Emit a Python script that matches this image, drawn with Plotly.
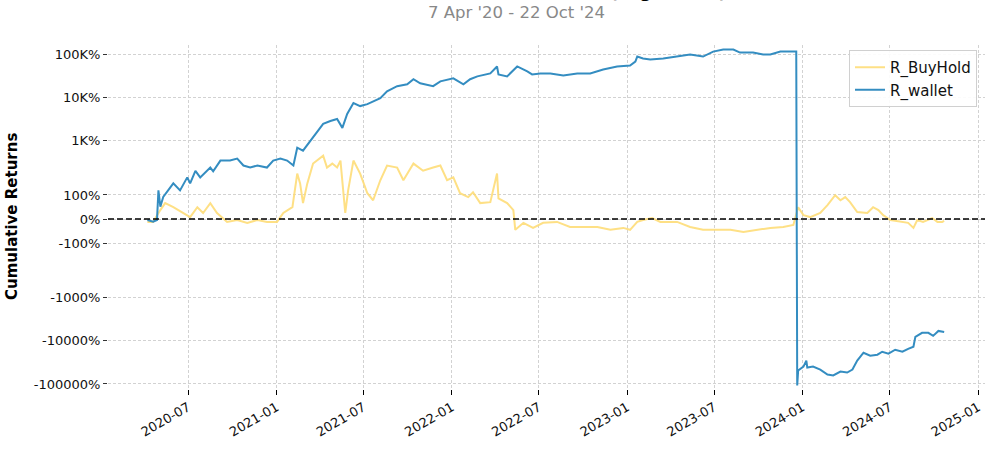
import numpy as np
import plotly.graph_objects as go

# ---- data (cumulative returns in %) ----
wallet_dates = [
    "2020-04-07", "2020-04-19", "2020-04-27", "2020-04-30", "2020-05-04", "2020-05-10", "2020-05-31",
    "2020-06-14", "2020-06-29", "2020-07-05", "2020-07-16", "2020-07-26", "2020-08-16", "2020-08-22",
    "2020-09-06", "2020-09-26", "2020-10-11", "2020-10-24", "2020-11-07", "2020-11-22", "2020-12-12",
    "2020-12-25", "2021-01-09", "2021-01-23", "2021-02-05", "2021-02-13", "2021-02-25", "2021-03-18",
    "2021-04-08", "2021-04-23", "2021-05-07", "2021-05-18", "2021-05-28", "2021-06-10", "2021-06-24",
    "2021-07-09", "2021-07-21", "2021-08-05", "2021-08-19", "2021-09-09", "2021-09-30", "2021-10-13",
    "2021-10-27", "2021-11-23", "2021-12-08", "2022-01-04", "2022-01-25", "2022-02-08", "2022-02-23",
    "2022-03-22", "2022-04-05", "2022-04-08", "2022-04-26", "2022-05-17", "2022-06-07", "2022-06-17",
    "2022-07-04", "2022-07-25", "2022-08-21", "2022-09-19", "2022-10-16", "2022-11-12", "2022-12-11",
    "2023-01-07", "2023-01-18", "2023-01-22", "2023-02-03", "2023-02-18", "2023-03-17", "2023-04-15",
    "2023-05-12", "2023-06-08", "2023-06-29", "2023-07-20", "2023-08-10", "2023-08-24", "2023-09-20",
    "2023-10-11", "2023-10-26", "2023-11-16", "2023-12-07", "2023-12-19", "2023-12-21", "2023-12-23",
    "2024-01-03", "2024-01-09", "2024-01-11", "2024-01-23", "2024-02-07", "2024-02-22", "2024-03-05",
    "2024-03-20", "2024-04-03", "2024-04-14", "2024-04-24", "2024-05-07", "2024-05-21", "2024-06-05",
    "2024-06-15", "2024-06-28", "2024-07-12", "2024-07-27", "2024-08-08", "2024-08-19", "2024-08-23",
    "2024-09-06", "2024-09-19", "2024-09-29", "2024-10-10", "2024-10-22",
]
wallet_pct = [
    -4, -11, -4, 119, 51, 92, 148,
    119, 173, 148, 200, 173, 239, 198,
    346, 346, 384, 266, 239, 266, 239,
    346, 384, 346, 266, 686, 586, 1160,
    2430, 2840, 3160, 1970, 4120, 7350, 6280,
    6970, 8160, 9560, 13800, 18100, 20000, 26200,
    21100, 18100, 23400, 27400, 20000, 26200, 30500,
    35700, 51600, 33900, 30500, 51600, 39600, 33900,
    35700, 35700, 32100, 35700, 35700, 44000, 51600,
    54400, 67200, 87400, 78700, 74600, 78700, 87400,
    97100, 87400, 113800, 126400, 126400, 107900, 107900,
    97100, 97100, 113800, 113800, 113800, -107900, -49000,
    -39700, -28900, -41800, -39700, -46500, -60500, -63700,
    -51600, -54400, -46500, -28900, -19000, -22200, -21100,
    -18000, -20000, -16200, -18000, -15400, -13800, -8160,
    -6600, -6600, -7740, -5960, -6280,
]

buyhold_dates = [
    "2020-04-07", "2020-04-19", "2020-05-04", "2020-05-14", "2020-05-31", "2020-06-21", "2020-07-05",
    "2020-07-20", "2020-08-01", "2020-08-16", "2020-08-30", "2020-09-20", "2020-10-11", "2020-11-01",
    "2020-11-22", "2020-12-12", "2021-01-02", "2021-01-15", "2021-02-03", "2021-02-13", "2021-02-19",
    "2021-02-25", "2021-03-06", "2021-03-18", "2021-04-08", "2021-04-16", "2021-04-27", "2021-05-07",
    "2021-05-14", "2021-05-24", "2021-05-30", "2021-06-10", "2021-06-24", "2021-07-09", "2021-07-21",
    "2021-08-05", "2021-08-19", "2021-09-09", "2021-09-22", "2021-10-13", "2021-11-02", "2021-11-23",
    "2021-12-08", "2021-12-22", "2022-01-04", "2022-01-18", "2022-02-04", "2022-02-14", "2022-03-01",
    "2022-03-22", "2022-04-05", "2022-04-08", "2022-04-26", "2022-05-09", "2022-05-13", "2022-05-30",
    "2022-06-19", "2022-07-10", "2022-08-08", "2022-09-04", "2022-10-02", "2022-10-31", "2022-11-27",
    "2022-12-24", "2023-01-07", "2023-01-22", "2023-02-03", "2023-02-22", "2023-03-11", "2023-04-15",
    "2023-05-12", "2023-06-08", "2023-07-08", "2023-08-04", "2023-08-31", "2023-09-29", "2023-10-26",
    "2023-11-22", "2023-12-13", "2023-12-23", "2024-01-03", "2024-01-17", "2024-02-07", "2024-02-22",
    "2024-03-09", "2024-03-20", "2024-03-30", "2024-04-09", "2024-04-24", "2024-05-15", "2024-05-27",
    "2024-06-07", "2024-06-17", "2024-07-02", "2024-07-23", "2024-08-08", "2024-08-19", "2024-08-27",
    "2024-09-08", "2024-09-27", "2024-10-08", "2024-10-18", "2024-10-22",
]
buyhold_pct = [
    -12, -12, 37, 66, 49, 25, 8,
    49, 25, 66, 25, -12, -4, -16,
    -4, -12, -12, 25, 49, 189, 148,
    66, 148, 295, 450, 239, 295, 239,
    346, 25, 119, 346, 189, 107, 78,
    161, 266, 239, 161, 295, 202, 239,
    266, 161, 173, 107, 91, 111, 66,
    70, 189, 86, 66, 37, -45, -16,
    -37, -16, -12, -33, -33, -33, -45,
    -37, -45, -12, -4, 4, -12, -12,
    -33, -45, -45, -45, -54, -45, -37,
    -33, -25, 49, 16, 8, 25, 58,
    99, 78, 91, 70, 29, 25, 49,
    37, 16, -4, -12, -16, -37, -4,
    -12, 4, -12, -12, -8,
]

ytick_vals_pct = [100000, 10000, 1000, 100, 0, -100, -1000, -10000, -100000]
ytick_text = ["100K%", "10K%", "1K%", "100%", "0%", "-100%", "-1000%", "-10000%", "-100000%"]
xtick_dates = ["2020-07-01", "2021-01-01", "2021-07-01", "2022-01-01", "2022-07-01",
               "2023-01-01", "2023-07-01", "2024-01-01", "2024-07-01", "2025-01-01"]
xtick_text = ["2020-07", "2021-01", "2021-07", "2022-01", "2022-07",
              "2023-01", "2023-07", "2024-01", "2024-07", "2025-01"]

title_text = "Cumulative Returns vs Benchmark (Log Scaled)"
subtitle_text = "7 Apr '20 - 22 Oct '24"


# matplotlib-style symlog (base 10, linthresh=2, linscale=1)
def symlog(pct):
    v = np.asarray(pct, dtype=float) / 100.0
    lt = 2.0
    ls = 1.0 / (1.0 - 1.0 / 10.0)
    a = np.abs(v)
    out = np.where(a <= lt, v * ls,
                   np.sign(v) * lt * (ls + np.log10(np.maximum(a, lt) / lt)))
    return out


L, R, T, B = 108, 15, 45, 66
W, H = 1000, 455
ph = H - T - B
pw = W - L - R
px_per_unit = 21.65
y_top = (219 - T) / px_per_unit
y_bot = (219 - (H - B)) / px_per_unit

fig = go.Figure()
fig.add_trace(go.Scatter(
    x=buyhold_dates, y=symlog(buyhold_pct), mode="lines", name="R_BuyHold",
    line=dict(color="#fedd78", width=2), opacity=0.9,
))
fig.add_trace(go.Scatter(
    x=wallet_dates, y=symlog(wallet_pct), mode="lines", name="R_wallet",
    line=dict(color="#348dc1", width=2),
))

fig.add_shape(type="line", xref="paper", x0=0, x1=1, y0=0, y1=0, yref="y",
              line=dict(color="black", width=1.5, dash="6px,3px"), layer="above")

grid = dict(showgrid=True, gridcolor="#d2d2d2", gridwidth=0.8, griddash="3px,2px")

fig.update_xaxes(
    type="date", range=["2020-01-16", "2025-01-15"],
    tickvals=xtick_dates, ticktext=xtick_text, tickangle=-30,
    ticks="outside", ticklen=5, tickcolor="black", tickwidth=1,
    tickfont=dict(family="DejaVu Sans", size=13, color="#111"),
    showline=False, zeroline=False, **grid,
)
fig.update_yaxes(
    range=[y_bot, y_top],
    tickvals=list(symlog(ytick_vals_pct)), ticktext=ytick_text,
    ticks="outside", ticklen=4, tickcolor="#333", tickwidth=1,
    tickfont=dict(family="DejaVu Sans", size=13, color="#111"),
    showline=False, zeroline=False, **grid,
)

fig.add_annotation(text="<b>Cumulative Returns</b>", textangle=-90,
                   xref="paper", yref="paper", x=(12 - L) / pw, y=0.5,
                   xanchor="center", yanchor="middle", showarrow=False,
                   font=dict(family="DejaVu Sans", size=15, color="black"))
fig.add_annotation(text="<b>" + title_text + "</b>",
                   xref="paper", yref="paper", x=(505 - L) / pw, y=1 + (T - 4) / ph,
                   xanchor="center", yanchor="bottom", showarrow=False,
                   font=dict(family="DejaVu Sans", size=16.5, color="black"))
fig.add_annotation(text=subtitle_text,
                   xref="paper", yref="paper", x=(516 - L) / pw, y=1 + (T - 12) / ph,
                   xanchor="center", yanchor="middle", showarrow=False,
                   font=dict(family="DejaVu Sans", size=16.5, color="#888888"))

fig.update_layout(
    width=W, height=H,
    margin=dict(l=L, r=R, t=T, b=B, autoexpand=False),
    plot_bgcolor="white", paper_bgcolor="white",
    showlegend=True,
    legend=dict(x=(977 - L) / pw, y=1 - (50 - T) / ph, xanchor="right", yanchor="top",
                bgcolor="rgba(255,255,255,0.9)", bordercolor="#d0d0d0", borderwidth=1,
                font=dict(family="DejaVu Sans", size=15, color="#111")),
)

fig.write_html("out.html")
